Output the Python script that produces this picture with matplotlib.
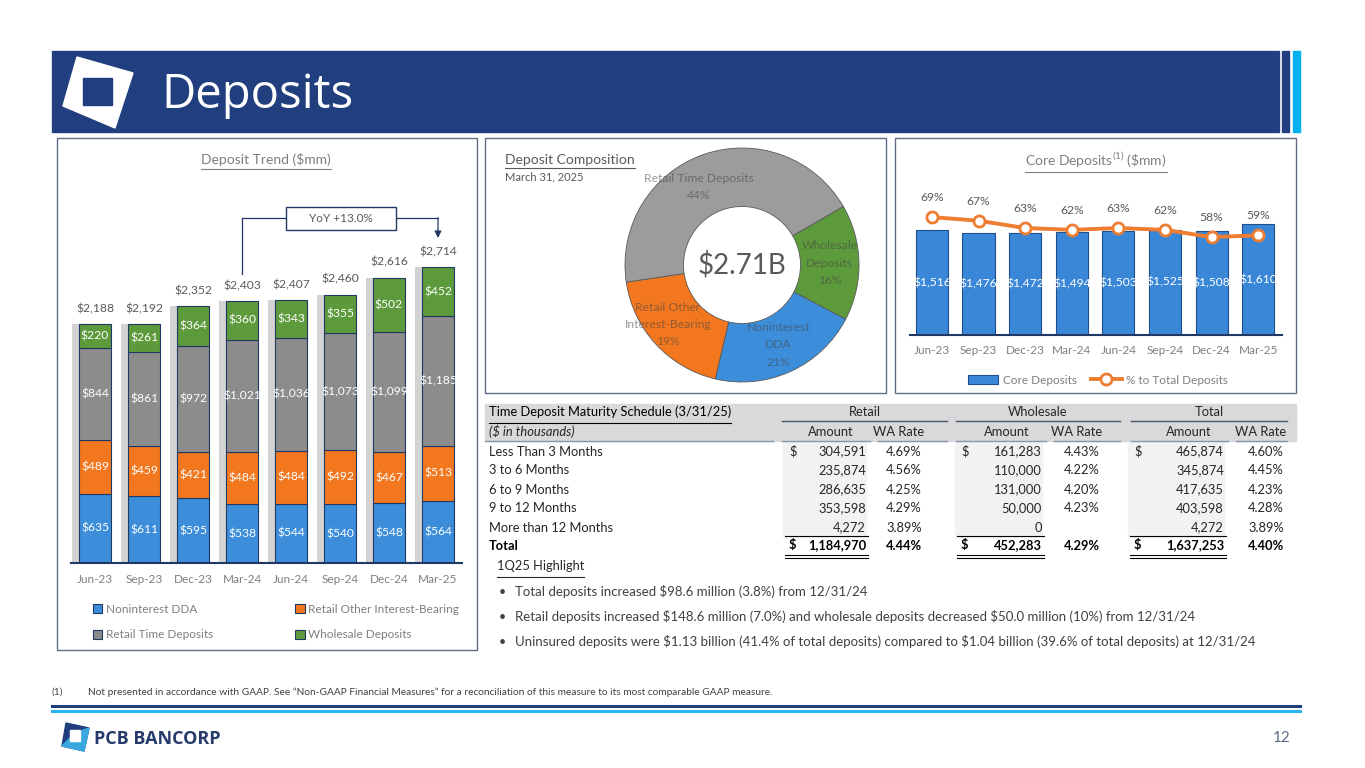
import numpy as np
import matplotlib
matplotlib.use('Agg')
import matplotlib.pyplot as plt
from matplotlib.patches import Rectangle, Polygon

W, H = 1365, 768

# 차트 데이터
quarters = ['Jun-23', 'Sep-23', 'Dec-23', 'Mar-24', 'Jun-24', 'Sep-24', 'Dec-24', 'Mar-25']
noninterest_dda = [635, 611, 595, 538, 544, 540, 548, 564]
retail_other = [489, 459, 421, 484, 484, 492, 467, 513]
retail_time = [844, 861, 972, 1021, 1036, 1073, 1099, 1185]
wholesale = [220, 261, 364, 360, 343, 355, 502, 452]
total_deposits = [2188, 2192, 2352, 2403, 2407, 2460, 2616, 2714]

core_deposits = [1516, 1476, 1472, 1494, 1503, 1525, 1508, 1610]
core_pct = [69, 67, 63, 62, 63, 62, 58, 59]

comp_names = ['Wholesale\nDeposits', 'Noninterest\nDDA', 'Retail Other\nInterest-Bearing', 'Retail Time Deposits']
comp_pct = [16, 21, 19, 44]

# 만기 테이블
row_labels = ['Less Than 3 Months', '3 to 6 Months', '6 to 9 Months', '9 to 12 Months', 'More than 12 Months']
retail_amt = [304591, 235874, 286635, 353598, 4272]
retail_rate = [4.69, 4.56, 4.25, 4.29, 3.89]
wholesale_amt = [161283, 110000, 131000, 50000, 0]
wholesale_rate = [4.43, 4.22, 4.20, 4.23, None]
total_amt = [465874, 345874, 417635, 403598, 4272]
total_rate = [4.60, 4.45, 4.23, 4.28, 3.89]
group_names = ['Retail', 'Wholesale', 'Total']
group_total_amt = [1184970, 452283, 1637253]
group_total_rate = [4.44, 4.29, 4.40]

highlights = [
    'Total deposits increased $98.6 million (3.8%) from 12/31/24',
    'Retail deposits increased $148.6 million (7.0%) and wholesale deposits decreased $50.0 million (10%) from 12/31/24',
    'Uninsured deposits were $1.13 billion (41.4% of total deposits) compared to $1.04 billion (39.6% of total deposits) at 12/31/24',
]

# 색상
NAVY = '#213F7F'
LBLUE = '#00B0F0'
C_BLUE = '#3C8DDA'
C_ORANGE = '#F2771E'
C_GRAY = '#8C8C8C'
C_GREEN = '#5C9A3B'
EDGE = '#1F3864'
TXT = '#7F7F7F'

CH = ['Lato', 'DejaVu Sans']
NAR = ['Lato', 'DejaVu Sans']
plt.rcParams['font.family'] = CH
plt.rcParams['mathtext.fontset'] = 'custom'
plt.rcParams['mathtext.rm'] = 'Lato'

fig = plt.figure(figsize=(W / 100, H / 100), dpi=100)


def box(x0, y0, x1, y1):
    return [x0 / W, 1 - y1 / H, (x1 - x0) / W, (y1 - y0) / H]


# 배경 (픽셀 좌표)
bg = fig.add_axes([0, 0, 1, 1])
bg.set_xlim(0, W)
bg.set_ylim(H, 0)
bg.axis('off')


def underline(t, color, lw=0.8, off=2):
    r = fig.canvas.get_renderer()
    bb = t.get_window_extent(renderer=r)
    y = H - bb.y0 + off
    bg.plot([bb.x0, bb.x1], [y, y], color=color, lw=lw)


# 표 글자는 기준선 맞춤
def ttext(x, y, s, ha='left', **kw):
    kw.setdefault('fontsize', FS)
    kw.setdefault('color', '#262626')
    return bg.text(x, y + 4.5, s, ha=ha, va='baseline', family=NAR, parse_math=False, **kw)


# 헤더
bg.add_patch(Rectangle((52, 51), 1227, 81, color=NAVY))
bg.add_patch(Rectangle((1282, 51), 7, 81, color=NAVY))
bg.add_patch(Rectangle((1293, 51), 7, 81, color=LBLUE))
bg.add_patch(Polygon([(77, 57), (133, 73), (115, 128), (63, 106)], closed=True, color='white'))
bg.add_patch(Rectangle((83, 78), 29, 27, color=NAVY))
bg.text(161, 95, 'Deposits', color='white', fontsize=34, family=['Open Sans', 'DejaVu Sans'],
        va='center', ha='left')

# 패널 테두리
for (x0, y0, x1, y1) in [(57, 138, 477, 650), (485, 138, 886, 393), (895, 138, 1296, 393)]:
    bg.add_patch(Rectangle((x0, y0), x1 - x0, y1 - y0, fill=False, ec='#5F6B86', lw=1))

# 하단
bg.plot([52, 1300], [706, 706], color=NAVY, lw=2.2)
bg.plot([52, 1300], [711, 711], color='#29B6F0', lw=2.2)
bg.add_patch(Polygon([(66, 723), (89, 728), (84, 751), (62, 746)], closed=True, color=NAVY))
bg.add_patch(Polygon([(75, 733), (89, 728), (84, 751), (62, 746)], closed=True, color='#3AA8E0'))
bg.add_patch(Rectangle((70, 730), 10, 11, color='white'))
bg.text(94, 739, 'PCB BANCORP', color='#263A6B', fontsize=13, fontweight='bold',
        family=['Open Sans', 'DejaVu Sans'], va='center', ha='left')
bg.text(1291, 738, '12', color='#5A6A8A', fontsize=11, ha='right', va='center', family=NAR)
bg.text(52, 692, '(1)', color='#404040', fontsize=7.3, va='center', family=NAR)
bg.text(88, 692, 'Not presented in accordance with GAAP. See \u201cNon-GAAP Financial Measures\u201d for a '
        'reconciliation of this measure to its most comparable GAAP measure.',
        color='#404040', fontsize=7.3, va='center', family=NAR, parse_math=False)

# ---- 예금 추이 (누적 막대) ----
ax1 = fig.add_axes(box(71, 203, 462, 563))
ax1.patch.set_alpha(0)
x = np.arange(len(quarters))
bw = 0.67
ax1.bar(x - 0.13, total_deposits, bw, color='#D3D3D3', zorder=1)
bottom = np.zeros(len(quarters))
handles = []
for vals, col, name in [(noninterest_dda, C_BLUE, 'Noninterest DDA'),
                        (retail_other, C_ORANGE, 'Retail Other Interest-Bearing'),
                        (retail_time, C_GRAY, 'Retail Time Deposits'),
                        (wholesale, C_GREEN, 'Wholesale Deposits')]:
    bars = ax1.bar(x, vals, bw, bottom=bottom, color=col, edgecolor=EDGE, linewidth=0.8,
                   zorder=2, label=name)
    ax1.bar_label(bars, labels=[f'${v:,}' for v in vals], label_type='center',
                  color='white', fontsize=8.7)
    handles.append(bars)
    bottom += np.array(vals)
ax1.bar_label(bars, labels=[f'${t:,}' for t in total_deposits], padding=7, color='#595959', fontsize=8.7)
ax1.set_xlim(-0.49, 7.49)
ax1.set_ylim(0, 3300)
ax1.set_xticks(x)
ax1.set_xticklabels(quarters)
ax1.tick_params(axis='x', length=0, pad=8, labelsize=8.5, labelcolor=TXT)
ax1.set_yticks([])
for s in ['left', 'right', 'top']:
    ax1.spines[s].set_visible(False)
ax1.spines['bottom'].set_color(EDGE)
ax1.spines['bottom'].set_linewidth(1.5)

# YoY 표시
y_yoy = 3160
ax1.plot([3, 3], [total_deposits[3] + 250, y_yoy], color=EDGE, lw=0.9)
ax1.plot([3, 3.9], [y_yoy, y_yoy], color=EDGE, lw=0.9)
ax1.plot([6.14, 7], [y_yoy, y_yoy], color=EDGE, lw=0.9)
ax1.annotate('', xy=(7, total_deposits[7] + 265), xytext=(7, y_yoy + 5),
             arrowprops=dict(arrowstyle='-|>', color=EDGE, lw=0.9, mutation_scale=10,
                             shrinkA=0, shrinkB=0))
ax1.add_patch(Rectangle((3.9, y_yoy - 105), 2.24, 210, fill=True, fc='white', ec=EDGE, lw=1, zorder=3))
ax1.text(5.02, y_yoy, 'YoY +13.0%', ha='center', va='center', fontsize=8.5, color='#595959', zorder=4)

leg_h = [handles[0], handles[2], handles[1], handles[3]]
fig.legend(leg_h, [h.get_label() for h in leg_h], ncol=2, loc='upper left',
           bbox_to_anchor=(82 / W, 1 - 593 / H), frameon=False, fontsize=8.5,
           handlelength=0.8, handleheight=0.8, handletextpad=0.3, columnspacing=7.0,
           labelspacing=1.25, labelcolor=TXT)

t = bg.text(266, 160, 'Deposit Trend ($mm)', ha='center', va='center', fontsize=10, color=TXT)

# ---- 예금 구성 (도넛) ----
ax2 = fig.add_axes(box(625, 148, 859, 382))
labels = [f'{n}\n{p}%' for n, p in zip(comp_names, comp_pct)]
wedges, texts = ax2.pie(comp_pct, labels=labels, colors=[C_GREEN, C_BLUE, C_ORANGE, '#9C9C9C'],
                        startangle=30, counterclock=False, labeldistance=0.75,
                        wedgeprops=dict(width=0.5, edgecolor='#595959', linewidth=0.6),
                        textprops=dict(ha='center', va='center', fontsize=8.7, color='#444444',
                                       alpha=0.55, linespacing=1.7))
texts[3].set_y(texts[3].get_position()[1] - 0.04)
texts[3].set_x(texts[3].get_position()[0] - 0.12)
texts[2].set_x(texts[2].get_position()[0] - 0.08)
ax2.set_xlim(-1, 1)
ax2.set_ylim(-1, 1)
ax2.text(0, 0, f'${total_deposits[-1] / 1000:.2f}B', ha='center', va='center', fontsize=20, color='#595959')

t2 = bg.text(505, 160, 'Deposit Composition', ha='left', va='center', fontsize=10, color='#595959')
bg.text(505, 177, 'March 31, 2025', ha='left', va='center', fontsize=8, color='#595959')

# ---- 핵심 예금 ----
ax3 = fig.add_axes(box(910, 200, 1282, 335))
ax3.patch.set_alpha(0)
b3 = ax3.bar(x, core_deposits, 0.69, color='#3A87D8', edgecolor='#1F4E8C', linewidth=0.8,
             label='Core Deposits')
ax3.bar_label(b3, labels=[f'${v:,}' for v in core_deposits], label_type='center', color='white', fontsize=8.7)
ax3.set_xlim(-0.47, 7.51)
ax3.set_ylim(0, 1956)
ax3.set_xticks(x)
ax3.set_xticklabels(quarters)
ax3.tick_params(axis='x', length=0, pad=7, labelsize=8.5, labelcolor=TXT)
ax3.set_yticks([])
for s in ['left', 'right', 'top']:
    ax3.spines[s].set_visible(False)
ax3.spines['bottom'].set_color(EDGE)
ax3.spines['bottom'].set_linewidth(1.5)
ax3b = ax3.twinx()
ln, = ax3b.plot(x, core_pct, color='#ED7D31', lw=2.8, marker='o', markersize=8,
                markerfacecolor='white', markeredgewidth=2, label='% to Total Deposits')
for xi, p in zip(x, core_pct):
    ax3b.annotate(f'{p}%', (xi, p), xytext=(0, 14), textcoords='offset points',
                  ha='center', va='center', fontsize=8.7, color='#595959')
ax3b.set_ylim(4.2, 78.4)
ax3b.set_yticks([])
for s in ax3b.spines.values():
    s.set_visible(False)
fig.legend([b3, ln], ['Core Deposits', '% to Total Deposits'], ncol=2, loc='center',
           bbox_to_anchor=(1098 / W, 1 - 380 / H), frameon=False, fontsize=8.5,
           handlelength=2.6, handletextpad=0.4, columnspacing=1.2, labelcolor=TXT)

t3 = bg.text(1096, 160, r'Core Deposits$^{(1)}$ (\$mm)', ha='center', va='center', fontsize=10, color=TXT)

# ---- 만기 테이블 ----
FS = 9.3
bg.add_patch(Rectangle((485, 404), 811, 37, color='#D9D9D9', zorder=0))
cols = [
    dict(dollar=789, amt_r=866, rate_r=922, x0=782, x1=947),
    dict(dollar=961, amt_r=1042, rate_r=1100, x0=956, x1=1120),
    dict(dollar=1134, amt_r=1224, rate_r=1284, x0=1131, x1=1287),
]
amts = [retail_amt, wholesale_amt, total_amt]
rates = [retail_rate, wholesale_rate, total_rate]
ROW0, DY = 451, 19
for g, c in enumerate(cols):
    bg.add_patch(Rectangle((c['dollar'] - 6, 442), c['amt_r'] + 6 - c['dollar'], 95,
                           color='#F2F2F2', zorder=0))
    ttext((c['x0'] + c['x1']) / 2, 412, group_names[g], ha='center')
    bg.plot([c['x0'], c['x1']], [421, 421], color='#44546A', lw=1)
    ttext(c['amt_r'] - 12, 432, 'Amount', ha='right')
    ttext(c['rate_r'] + 2, 432, 'WA Rate', ha='right')
    bg.plot([c['x0'], c['amt_r'] + 4], [441, 441], color='#8497B0', lw=1)
    bg.plot([c['amt_r'] + 12, c['x1']], [441, 441], color='#8497B0', lw=1)
    for i in range(len(row_labels)):
        y = ROW0 + DY * i
        if i == 0:
            ttext(c['dollar'], y, '$')
        ttext(c['amt_r'], y, f'{amts[g][i]:,}', ha='right')
        if rates[g][i] is not None:
            ttext(c['rate_r'], y, f'{rates[g][i]:.2f}%', ha='right')
    yt = ROW0 + DY * len(row_labels) - 1
    bg.plot([c['dollar'] - 4, c['amt_r'] + 2], [yt - 9, yt - 9], color='black', lw=0.8)
    ttext(c['dollar'], yt, '$', color='black', fontweight='bold')
    ttext(c['amt_r'], yt, f'{group_total_amt[g]:,}', ha='right', color='black', fontweight='bold')
    ttext(c['rate_r'], yt, f'{group_total_rate[g]:.2f}%', ha='right', color='black', fontweight='bold')
    for yy in (yt + 10, yt + 13):
        bg.plot([c['dollar'] - 4, c['amt_r'] + 2], [yy, yy], color='black', lw=0.8)

t4 = ttext(489, 412, 'Time Deposit Maturity Schedule (3/31/25)', color='black')
ttext(489, 432, '($ in thousands)', style='italic')
bg.plot([485, 773], [441, 441], color='#8497B0', lw=1)
for i, lab in enumerate(row_labels):
    ttext(489, ROW0 + DY * i, lab)
ttext(489, ROW0 + DY * len(row_labels) - 1, 'Total', color='black', fontweight='bold')

t5 = ttext(497, 566, '1Q25 Highlight')
for i, h in enumerate(highlights):
    y = 591 + 25.5 * i
    ttext(499, y, '\u2022', fontsize=9, color='#404040')
    ttext(515, y, h, fontsize=9.5, color='#404040')

fig.canvas.draw()
underline(t, TXT)
underline(t2, '#595959')
underline(t3, TXT)
underline(t4, 'black', off=4)
underline(t5, '#262626', off=4)

fig.savefig('out.png', dpi=100)
